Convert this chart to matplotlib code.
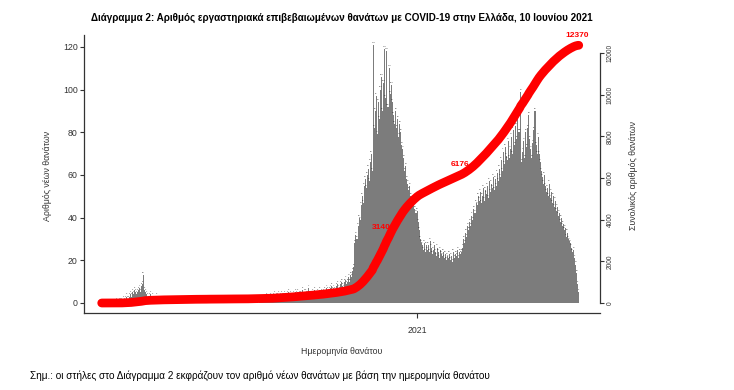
import numpy as np
import pandas as pd
import matplotlib
matplotlib.use('Agg')
import matplotlib.pyplot as plt

plt.rcParams['font.family'] = ['Liberation Sans', 'DejaVu Sans']

# ημερήσιοι θάνατοι ανά μήνα, από 26/2/2020 έως 9/6/2021
feb20 = [0, 0, 0, 0]
mar20 = [0, 0, 0, 0, 0, 0, 0, 0, 0, 0, 0, 1, 0, 1, 1, 1, 0, 2, 1, 2, 3,
         2, 2, 3, 4, 3, 5, 4, 6, 5, 4]
apr20 = [5, 6, 7, 5, 8, 9, 13, 6, 5, 4, 3, 2, 3, 4, 2, 3, 2, 1, 2, 3,
         1, 2, 1, 1, 2, 0, 1, 1, 0, 1]
may20 = [1, 2, 1, 0, 1, 2, 1, 0, 1, 2, 1, 0, 1, 1, 0, 2, 1, 0, 1, 0,
         1, 2, 0, 1, 0, 1, 0, 1, 1, 0, 1]
jun20 = [0, 1, 0, 1, 0, 0, 1, 0, 2, 0, 1, 0, 0, 1, 0, 1, 0, 0, 1, 0,
         1, 0, 1, 0, 0, 1, 0, 1, 0, 1]
jul20 = [0, 1, 0, 0, 1, 0, 1, 0, 0, 1, 0, 0, 1, 0, 1, 0, 0, 1, 0, 1,
         0, 0, 1, 0, 1, 0, 1, 1, 0, 1, 1]
aug20 = [1, 2, 1, 2, 1, 3, 2, 2, 1, 3, 2, 2, 3, 4, 2, 3, 3, 4, 2, 3,
         4, 3, 3, 4, 2, 3, 4, 5, 3, 4, 3]
sep20 = [3, 4, 2, 5, 4, 5, 3, 4, 4, 6, 3, 5, 5, 4, 4, 7, 4, 3, 4, 5,
         4, 6, 4, 4, 5, 4, 6, 4, 5, 4]
oct20 = [5, 6, 4, 7, 6, 5, 6, 7, 8, 6, 7, 6, 5, 8, 9, 7, 6, 9, 10, 8,
         7, 10, 11, 9, 10, 12, 10, 13, 12, 15, 17]
nov20 = [28, 32, 30, 36, 40, 39, 46, 50, 47, 55, 58, 54, 60, 63, 57, 66, 70, 62, 121, 82,
         90, 97, 79, 94, 86, 100, 106, 90, 103, 119]
dec20 = [96, 118, 92, 92, 110, 98, 102, 94, 88, 84, 90, 82, 86, 78, 84, 80, 74, 72, 68, 62,
         64, 58, 56, 53, 55, 50, 48, 46, 49, 44, 42]
jan21 = [43, 38, 34, 30, 28, 27, 25, 28, 24, 27, 25, 27, 24, 29, 26, 23, 25, 27, 24, 22,
         26, 24, 21, 25, 23, 22, 24, 21, 23, 20, 22]
feb21 = [21, 23, 20, 22, 19, 24, 21, 23, 22, 25, 21, 24, 23, 24, 26, 30, 28, 33, 31, 36,
         34, 38, 36, 41, 39, 44, 42, 47]
mar21 = [46, 50, 48, 52, 47, 50, 54, 48, 53, 51, 55, 49, 57, 52, 56, 54, 59, 53, 58, 55,
         61, 57, 63, 59, 67, 62, 71, 65, 73, 69, 67]
apr21 = [76, 68, 72, 78, 70, 81, 74, 83, 77, 86, 80, 80, 99, 66, 71, 76, 68, 80, 73, 82,
         88, 77, 72, 68, 75, 81, 90, 74, 70, 78]
may21 = [70, 66, 62, 59, 56, 60, 55, 52, 54, 50, 56, 49, 52, 47, 50, 45, 48, 43, 45, 41,
         42, 38, 40, 36, 37, 34, 35, 31, 33, 30, 29]
jun21 = [28, 26, 24, 25, 21, 18, 14, 9, 5]

start_date = '2020-02-26'
label_dates = ['2020-12-04', '2021-02-14', '2021-06-09']
label_shift = [-5, -1, -1]   # οριζόντια μετατόπιση ετικέτας (points)

daily = np.array(feb20 + mar20 + apr20 + may20 + jun20 + jul20 + aug20 + sep20 + oct20
                 + nov20 + dec20 + jan21 + feb21 + mar21 + apr21 + may21 + jun21)
assert len(daily) == 470
dates = pd.date_range(start_date, periods=len(daily), freq='D')
cum = daily.cumsum()

W, H = 734, 390
fig = plt.figure(figsize=(W / 100, H / 100), dpi=100)
ax1 = fig.add_axes([84 / W, 77 / H, 516 / W, 278 / H])

# στήλες νέων θανάτων
ax1.bar(dates, daily, width=1.0, color='#7c7c7c', linewidth=0)
for d, v in zip(dates, daily):
    ax1.text(d, v + 1.0, str(v), fontsize=1.6, ha='center', va='bottom', color='#2a2a2a')

jan1 = pd.Timestamp('2021-01-01')
ax1.set_xlim(jan1 - pd.Timedelta(days=327.4), jan1 + pd.Timedelta(days=179.9))
ax1.set_ylim(-4.69, 125.6)
ax1.set_yticks(range(0, 121, 20))
ax1.set_xticks([jan1])
ax1.set_xticklabels(['2021'])
ax1.tick_params(axis='y', labelsize=6.3, length=3, width=0.8, pad=1.5, colors='#333333')
ax1.tick_params(axis='x', labelsize=6.3, length=3.5, width=0.8, pad=6, colors='#333333')
for s in ['top', 'right']:
    ax1.spines[s].set_visible(False)
for s in ['left', 'bottom']:
    ax1.spines[s].set_color('#333333')
    ax1.spines[s].set_linewidth(0.9)

# σωρευτικός αριθμός
ax2 = ax1.twinx()
ax2.plot(dates, cum, color='#ff0000', lw=6.3, solid_capstyle='round', zorder=3)
for ld, dx in zip(label_dates, label_shift):
    i = dates.get_loc(pd.Timestamp(ld))
    ax2.annotate(f'{cum[i]}', (dates[i], cum[i]), xytext=(dx, 7), textcoords='offset points',
                 ha='center', va='center', color='#ff0000', fontsize=6,
                 fontweight='bold', zorder=2)
ax2.set_ylim(-480, 12864)
ax2.set_yticks(range(0, 12001, 2000))
ax2.tick_params(axis='y', labelsize=4.8, length=3, width=0.8, pad=2, colors='#333333')
for t in ax2.get_yticklabels():
    t.set_rotation(90)
    t.set_va('center')
for s in ['top', 'left', 'bottom']:
    ax2.spines[s].set_visible(False)
ax2.spines['right'].set_bounds(0, 12000)
ax2.spines['right'].set_color('#333333')
ax2.spines['right'].set_linewidth(0.9)

fig.text(342 / W, 1 - 18 / H,
         'Διάγραμμα 2: Αριθμός εργαστηριακά επιβεβαιωμένων θανάτων με COVID-19 στην Ελλάδα, 10 Ιουνίου 2021',
         ha='center', va='center', fontsize=7.1, fontweight='bold')
fig.text(47 / W, 1 - 176 / H, 'Αριθμός νέων θανάτων', rotation=90,
         ha='center', va='center', fontsize=6.3, color='#333333')
fig.text(633 / W, 1 - 176 / H, 'Συνολικός αριθμός θανάτων', rotation=90,
         ha='center', va='center', fontsize=6.3, color='#333333')
fig.text(342 / W, 1 - 352 / H, 'Ημερομηνία θανάτου',
         ha='center', va='center', fontsize=6.3, color='#333333')
fig.text(30 / W, 1 - 376 / H,
         'Σημ.: οι στήλες στο Διάγραμμα 2 εκφράζουν τον αριθμό νέων θανάτων με βάση την ημερομηνία θανάτου',
         ha='left', va='center', fontsize=7.2)

fig.savefig('out.png', dpi=100)
